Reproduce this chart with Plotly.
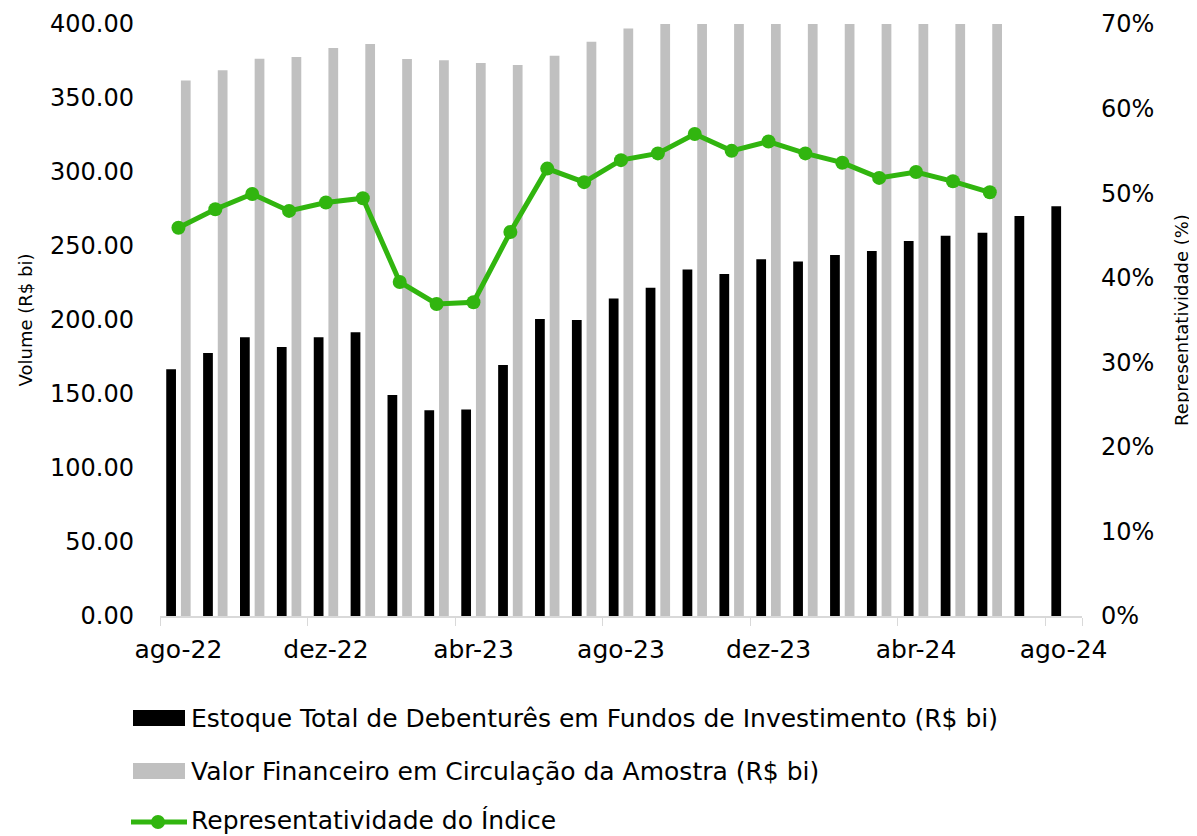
import plotly.graph_objects as go

months = ["ago-22", "set-22", "out-22", "nov-22", "dez-22", "jan-23", "fev-23", "mar-23",
          "abr-23", "mai-23", "jun-23", "jul-23", "ago-23", "set-23", "out-23", "nov-23",
          "dez-23", "jan-24", "fev-24", "mar-24", "abr-24", "mai-24", "jun-24", "jul-24", "ago-24"]

estoque = [166.7, 177.7, 188.3, 181.8, 188.3, 191.7, 149.3, 139.0, 139.6, 169.6, 200.7, 200.0,
           214.6, 221.8, 234.2, 231.1, 241.0, 239.6, 243.9, 246.6, 253.4, 257.0, 259.0, 270.3, 276.8]

valor_fin = [361.9, 368.7, 376.6, 377.7, 383.8, 386.5, 376.4, 375.5, 373.6, 372.3, 378.6, 388.0,
             397.0, 405.0, 411.0, 420.0, 430.0, 438.0, 455.0, 476.0, 483.0, 500.0, 517.0, None, None]

repr_pct = [45.9, 48.1, 49.9, 47.9, 48.9, 49.4, 39.5, 36.9, 37.1, 45.4, 52.9, 51.3, 53.9, 54.7,
            57.0, 55.0, 56.1, 54.7, 53.6, 51.8, 52.5, 51.4, 50.1]

tick_labels = ["ago-22", "dez-22", "abr-23", "ago-23", "dez-23", "abr-24", "ago-24"]

series_names = ["Estoque Total de Debenturês em Fundos de Investimento (R$ bi)",
                "Valor Financeiro em Circulação da Amostra (R$ bi)",
                "Representatividade do Índice"]

BLACK = "#000000"
GRAY = "#c0c0c0"
GREEN = "#31b50f"
FONT = "DejaVu Sans"

OFF = 8  # page body margin
W, H = 1189, 828
L, T = 160 - OFF, 24 - OFF
PLOT_RIGHT, PLOT_BOTTOM = 1082 - OFF, 616 - OFF
R, B = W - PLOT_RIGHT, H - PLOT_BOTTOM
PW, PH = W - L - R, H - T - B


def px(x):
    return (x - OFF - L) / PW


def py(y):
    return (PLOT_BOTTOM - (y - OFF)) / PH


fig = go.Figure()
fig.add_trace(go.Bar(x=months, y=estoque, name=series_names[0],
                     marker=dict(color=BLACK, line=dict(width=0)), showlegend=False))
fig.add_trace(go.Bar(x=months, y=valor_fin, name=series_names[1],
                     marker=dict(color=GRAY, line=dict(width=0)), showlegend=False))
fig.add_trace(go.Scatter(x=months[:len(repr_pct)], y=[v / 100 for v in repr_pct], name=series_names[2],
                         mode="lines+markers", line=dict(color=GREEN, width=5),
                         marker=dict(size=14, color=GREEN), yaxis="y2", showlegend=False))

# manual legend (symbols + text)
shapes = [
    dict(type="rect", xref="paper", yref="paper", x0=px(133), x1=px(185), y0=py(710), y1=py(726),
         fillcolor=BLACK, line=dict(width=0)),
    dict(type="rect", xref="paper", yref="paper", x0=px(133), x1=px(185), y0=py(763), y1=py(779),
         fillcolor=GRAY, line=dict(width=0)),
    dict(type="line", xref="paper", yref="paper", x0=px(131), x1=px(187), y0=py(822), y1=py(822),
         line=dict(color=GREEN, width=5)),
    dict(type="circle", xref="paper", yref="paper", x0=px(151), x1=px(165), y0=py(815), y1=py(829),
         fillcolor=GREEN, line=dict(width=0)),
]
annotations = []
for name, yy in zip(series_names, [718, 771, 820]):
    annotations.append(dict(text=name, xref="paper", yref="paper", x=px(189), y=py(yy),
                            xanchor="left", yanchor="middle", showarrow=False,
                            font=dict(family=FONT, size=25, color=BLACK)))

fig.update_layout(
    width=W, height=H,
    margin=dict(l=L, r=R, t=T, b=B, autoexpand=False),
    paper_bgcolor="white", plot_bgcolor="white",
    font=dict(family=FONT, size=22, color=BLACK),
    barmode="group", bargap=0.205, bargroupgap=0.335,
    showlegend=False,
    shapes=shapes, annotations=annotations,
    xaxis=dict(type="category", categoryorder="array", categoryarray=months,
               tickmode="array", tickvals=tick_labels, ticktext=tick_labels, tickangle=0,
               ticks="outside", tickson="boundaries", ticklen=8, tickcolor="#d9d9d9",
               showline=True, linecolor="#d9d9d9", linewidth=1.5, showgrid=False,
               tickfont=dict(size=25), range=[-0.5, 24.5], automargin=False, ticklabelstandoff=10),
    yaxis=dict(range=[0, 400], dtick=50, tickformat=".2f", showgrid=False, zeroline=False,
               showline=False, ticks="", tickfont=dict(size=24), automargin=False,
               ticklabelstandoff=25,
               title=dict(text="Volume (R$ bi)", font=dict(size=18), standoff=12)),
    yaxis2=dict(range=[0, 0.70], dtick=0.10, tickformat=".0%", overlaying="y", side="right",
                showgrid=False, zeroline=False, showline=False, ticks="", tickfont=dict(size=24),
                automargin=False, ticklabelstandoff=18,
                title=dict(text="Representatividade (%)", font=dict(size=18), standoff=22)),
)

fig.write_html("out.html")
